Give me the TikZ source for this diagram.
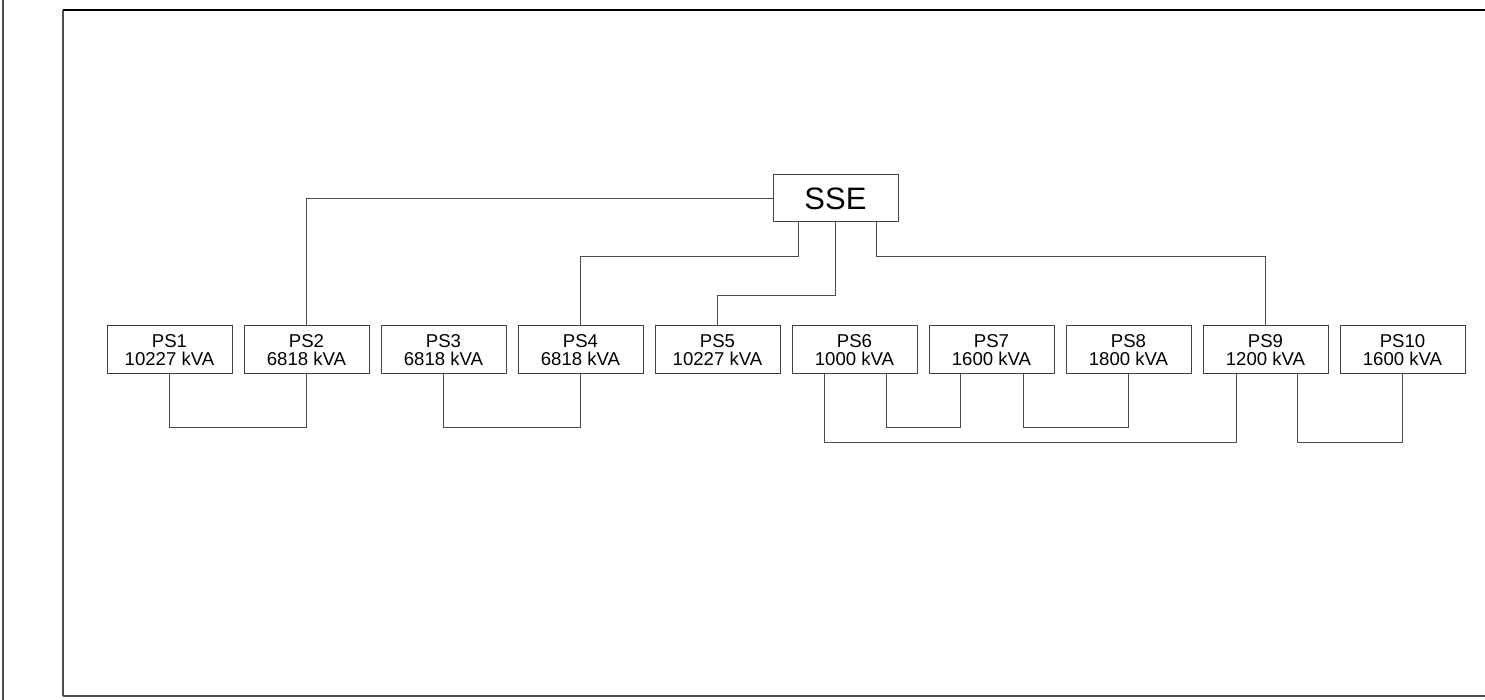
\documentclass[tikz,border=0pt]{standalone}
\usepackage{fontspec}
\setmainfont{Liberation Sans}
\usepackage{tikz}
\usetikzlibrary{calc,chains,positioning}
\tikzset{
	station/.style={
		draw=black!75, rectangle, line width=0.5pt,
		minimum width=62.5pt, minimum height=24pt,
		inner sep=0pt, outer sep=0pt, align=center,
		font=\fontsize{9.3}{9}\selectfont, text=black
	},
	substation/.style={
		station, minimum height=23.5pt,
		font=\fontsize{15.5}{15.5}\selectfont
	},
	link/.style={draw=black!70, line width=0.5pt},
	frame/.style={draw=black!70, line width=0.7pt}
}

\begin{document}
\begin{tikzpicture}[x=0.5pt, y=-0.5pt, start chain, node distance=6pt]
				\useasboundingbox (0,0) rectangle (1485,700);
				\draw[frame] (3,0) -- (3,700);
				\draw[frame] (63,696) -- (1485,696);
				\draw[frame] (63,696) -- (63,10);
				\draw[frame, draw=black] (63,10) -- (1485,10);
				\node[substation] (SSE) at (835.5,198.5) {SSE};
				\node[station,on chain] (PS1) at (169.5,350) {PS1\\10227 kVA};
				\node[station,on chain] (PS2) {PS2\\6818 kVA};
				\node[station,on chain] (PS3) {PS3\\6818 kVA};
				\node[station,on chain] (PS4) {PS4\\6818 kVA};
				\node[station,on chain] (PS5) {PS5\\10227 kVA};
				\node[station,on chain] (PS6) {PS6\\1000 kVA};
				\node[station,on chain] (PS7) {PS7\\1600 kVA};
				\node[station,on chain] (PS8) {PS8\\1800 kVA};
				\node[station,on chain] (PS9) {PS9\\1200 kVA};
				\node[station,on chain] (PS10) {PS10\\1600 kVA};
				\draw[link] (SSE.west) -| (PS2.north);
				\draw[link] ([xshift=-18.5pt]SSE.south) -- ++(0,35) -| (PS4.north);
				\draw[link] (SSE.south) -- ++(0,74) -| (PS5.north);
				\draw[link] ([xshift=20.5pt]SSE.south) -- ++(0,35) -| (PS9.north);
				\draw[link] (PS1.south) -- ++(0,54) -| (PS2.south);
				\draw[link] (PS3.south) -- ++(0,54) -| (PS4.south);
				\draw[link] ([xshift=-15pt]PS6.south) -- ++(0,69) -| ([xshift=-14.5pt]PS9.south);
				\draw[link] ([xshift=16pt]PS6.south) -- ++(0,54) -| ([xshift=-15.5pt]PS7.south);
				\draw[link] ([xshift=16pt]PS7.south) -- ++(0,54) -| (PS8.south);
				\draw[link] ([xshift=16pt]PS9.south) -- ++(0,69) -| (PS10.south);
			\end{tikzpicture}
\end{document}
